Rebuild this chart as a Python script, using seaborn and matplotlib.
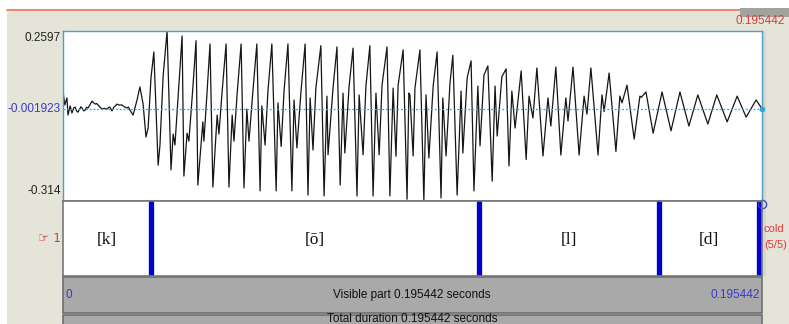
import numpy as np
import pandas as pd
import matplotlib
matplotlib.use("Agg")
import matplotlib.pyplot as plt
import matplotlib.transforms as mtransforms
from matplotlib.patches import Rectangle
import seaborn as sns

# ── Data ──
duration_ms = 195.442
y_top = 0.2597
y_mid = -0.001923
y_bot = -0.314

time_ms = [
    0.0, 0.5, 1.1, 1.4, 2.0, 2.5, 3.0, 3.4, 3.9, 4.2, 5.0, 5.3, 5.8, 6.2, 6.6, 7.0,
    7.6, 8.1, 8.5, 9.0, 9.4, 9.8, 10.4, 10.9, 11.5, 12.3, 12.8, 13.1, 13.7, 14.2,
    15.1, 15.6, 16.5, 17.1, 17.9, 18.3, 18.7, 19.6, 20.7, 21.5, 22.4, 23.2, 23.8,
    24.6, 25.4, 26.6, 27.1, 28.0, 29.1, 30.2, 30.8, 31.3, 33.3, 33.8, 34.7, 35.2,
    36.3, 37.2, 37.7, 39.1, 39.4, 40.3, 41.1, 41.9, 43.1, 43.6, 44.5, 45.6, 46.4,
    47.3, 47.8, 48.7, 49.8, 50.6, 51.4, 52.0, 53.1, 54.2, 55.1, 55.6, 56.5, 57.3,
    58.4, 59.6, 60.1, 61.0, 61.8, 62.9, 64.0, 64.6, 65.4, 66.5, 67.7, 68.5, 69.1,
    69.9, 70.7, 72.1, 73.0, 73.8, 74.1, 75.5, 76.6, 77.5, 78.3, 78.8, 80.0, 81.1,
    82.2, 82.8, 83.9, 84.7, 85.8, 86.7, 87.5, 88.4, 89.2, 90.6, 91.4, 92.3, 93.1,
    93.7, 95.1, 96.2, 96.7, 97.0, 97.9, 98.4, 99.8, 100.9, 101.5, 102.3, 103.5,
    104.6, 105.7, 106.2, 107.1, 108.2, 109.0, 110.2, 111.3, 111.8, 113.0, 114.1,
    114.9, 116.0, 116.6, 117.7, 118.8, 120.0, 120.8, 121.4, 122.7, 123.9, 124.7,
    125.5, 126.4, 128.1, 129.5, 130.3, 131.4, 132.5, 134.2, 135.6, 136.4, 137.8,
    139.2, 140.6, 141.2, 142.6, 144.3, 145.7, 146.5, 147.6, 149.6, 150.7, 151.3,
    152.7, 154.6, 155.7, 156.3, 157.7, 159.7, 161.3, 161.7, 163.0, 165.0, 167.5,
    170.0, 172.5, 175.0, 177.5, 180.3, 182.8, 185.7, 188.5, 191.0, 193.8, 195.4,
]
amplitude = [
    0.057, 0.010, 0.034, -0.024, 0.007, -0.017, 0.000, 0.003, -0.012, -0.014, 0.004,
    0.000, -0.010, -0.007, 0.002, 0.000, 0.012, 0.023, 0.018, 0.013, 0.015, 0.010,
    0.002, -0.004, -0.001, -0.004, 0.002, 0.003, -0.010, 0.002, 0.013, 0.010, 0.010,
    0.004, 0.000, 0.003, -0.007, -0.024, 0.027, 0.071, 0.013, -0.098, -0.068, 0.101,
    0.189, -0.193, -0.128, 0.108, 0.2597, -0.209, -0.088, -0.125, 0.243, -0.230,
    -0.085, -0.112, 0.067, 0.227, -0.260, -0.047, -0.112, 0.057, 0.216, -0.267,
    -0.024, -0.088, 0.057, 0.216, -0.267, -0.024, -0.112, 0.050, 0.216, -0.270,
    -0.004, -0.112, 0.057, 0.216, -0.280, 0.007, -0.125, 0.057, 0.216, -0.280,
    0.017, -0.130, 0.057, 0.216, -0.280, 0.027, -0.135, 0.050, 0.216, -0.294,
    0.034, -0.142, 0.067, 0.210, -0.297, 0.040, -0.158, 0.067, 0.206, -0.260,
    0.050, -0.152, 0.074, 0.202, -0.297, 0.044, -0.158, 0.074, 0.210, -0.297,
    0.050, -0.158, 0.077, 0.206, -0.297, 0.067, -0.163, 0.077, 0.196, -0.308,
    0.050, 0.044, -0.162, 0.067, 0.196, -0.314, 0.044, -0.169, 0.074, 0.189,
    -0.304, 0.034, -0.162, 0.084, 0.178, -0.294, 0.057, -0.152, 0.101, 0.159,
    -0.280, 0.074, -0.128, 0.111, 0.142, -0.247, 0.074, -0.095, 0.105, 0.132,
    -0.196, 0.057, -0.068, 0.125, -0.174, 0.040, -0.034, 0.135, -0.162, 0.034,
    -0.061, 0.138, -0.159, 0.034, -0.044, 0.138, -0.159, 0.040, -0.021, 0.135,
    -0.159, 0.044, -0.012, 0.118, -0.147, 0.040, 0.017, 0.077, -0.105, 0.040,
    0.036, 0.054, -0.085, 0.054, -0.077, 0.054, -0.061, 0.044, -0.054, 0.044,
    -0.047, 0.040, -0.031, 0.027, -0.002,
]

segment_labels = ["[k]", "[\u014d]", "[l]", "[d]"]
segment_starts = [0.0, 24.6, 116.3, 166.6]
segment_ends = [24.6, 116.3, 166.6, 194.6]
boundaries = [24.6, 116.3, 166.6, 194.6]

wave = pd.DataFrame({"time_ms": time_ms, "amplitude": amplitude})

# ── Style ──
sns.set_style("white")
plt.rcParams["font.family"] = ["Liberation Sans", "DejaVu Sans"]

BEIGE = "#e5e4d9"
GRAY_BAR = "#a9a9a9"
BLUE_TXT = "#3a3acc"
RED_TXT = "#e03a3a"

W, H = 789, 324
fig = plt.figure(figsize=(W / 100, H / 100), dpi=100)
fig.patch.set_facecolor("white")


def rect(x0, y0, x1, y1):
    # pixel box (top-left origin) -> figure fraction
    return [x0 / W, 1 - y1 / H, (x1 - x0) / W, (y1 - y0) / H]


def fx(x):
    return x / W


def fy(y):
    return 1 - y / H


# window background
fig.patches.append(Rectangle((fx(7), 0), 1 - fx(7), fy(10), transform=fig.transFigure,
                             facecolor=BEIGE, edgecolor="none", zorder=-10))
fig.lines.append(plt.Line2D([fx(7), 1], [fy(10), fy(10)], transform=fig.transFigure,
                            color="#e8835c", lw=1.3, zorder=-5))
fig.patches.append(Rectangle((fx(740), fy(17)), 1 - fx(740), fy(8) - fy(17),
                             transform=fig.transFigure, facecolor="#a3a29c",
                             edgecolor="none", zorder=-5))
fig.text(fx(785), fy(21), "0.195442", color=RED_TXT, fontsize=8.5, ha="right", va="center")

# ── Waveform ──
ax = fig.add_axes(rect(63, 31, 762, 201))
ax.set_facecolor("white")
sns.lineplot(data=wave, x="time_ms", y="amplitude", ax=ax, color="#151515",
             lw=0.9, estimator=None, sort=False)
ax.axhline(y_mid, color="#10b4ee", lw=0.9, ls=(0, (1.5, 1.5)))
ax.plot([duration_ms], [y_mid], "o", color="#10b4ee", ms=3, clip_on=False)
ax.set_xlim(0, duration_ms)
ax.set_ylim(y_bot, y_top)
ax.set_xticks([])
ax.set_yticks([])
ax.set_xlabel("")
ax.set_ylabel("")
for side in ["top", "left", "right"]:
    ax.spines[side].set_color("#4f9cc4")
    ax.spines[side].set_linewidth(1.0)
ax.spines["bottom"].set_color("#777777")
ax.spines["bottom"].set_linewidth(1.2)

lab_tr = mtransforms.blended_transform_factory(fig.transFigure, ax.transData)
fig.text(fx(61), fy(38), f"{y_top:g}", ha="right", va="center", fontsize=8.5, color="#222222")
ax.text(fx(61), y_mid, f"{y_mid:g}", transform=lab_tr, ha="right", va="center",
        fontsize=8.5, color=BLUE_TXT)
fig.text(fx(61), fy(191), f"{y_bot:g}", ha="right", va="center", fontsize=8.5, color="#222222")

# ── TextGrid tier ──
tx = fig.add_axes(rect(63, 201, 762, 276))
tx.set_facecolor("white")
tx.set_xlim(0, duration_ms)
tx.set_ylim(0, 1)
tx.set_xticks([])
tx.set_yticks([])
for side in tx.spines:
    tx.spines[side].set_color("#777777")
    tx.spines[side].set_linewidth(1.2)
for b in boundaries:
    tx.axvline(b, color="#0000d0", lw=3.8)
for lab, s, e in zip(segment_labels, segment_starts, segment_ends):
    tx.text((s + e) / 2, 0.48, lab, ha="center", va="center", fontsize=12.5,
            family=["Liberation Serif", "DejaVu Serif"], color="#111111")
tx.plot([duration_ms], [0.96], "o", mfc="none", mec="#3a3acc", ms=6, mew=0.9, clip_on=False)

fig.text(fx(61), fy(238), "\u261e 1", ha="right", va="center", fontsize=9,
         color=RED_TXT, family=["DejaVu Sans"])
fig.text(fx(764), fy(229), "cold", ha="left", va="center", fontsize=8, color=RED_TXT)
fig.text(fx(764), fy(245), "(5/5)", ha="left", va="center", fontsize=8, color=RED_TXT)
fig.patches.append(Rectangle((fx(762), fy(276)), fx(4), fy(31) - fy(276),
                             transform=fig.transFigure, facecolor="#d6d6d2",
                             edgecolor="none", zorder=-5))

# ── Bottom bars ──
for y0, y1 in [(277, 313), (315, 330)]:
    fig.patches.append(Rectangle((fx(63), fy(y1)), fx(762) - fx(63), fy(y0) - fy(y1),
                                 transform=fig.transFigure, facecolor=GRAY_BAR,
                                 edgecolor="#6f6f6f", lw=1.2, zorder=-5))
fig.text(fx(65), fy(295), "0", ha="left", va="center", fontsize=8.5, color=BLUE_TXT)
fig.text(fx(412), fy(295), f"Visible part {duration_ms / 1000:g} seconds", ha="center",
         va="center", fontsize=8.5, color="#111111")
fig.text(fx(760), fy(295), f"{duration_ms / 1000:g}", ha="right", va="center",
         fontsize=8.5, color=BLUE_TXT)
fig.text(fx(412), fy(319.5), f"Total duration {duration_ms / 1000:g} seconds", ha="center",
         va="center", fontsize=8.5, color="#111111")

fig.savefig("out.png", dpi=100)
